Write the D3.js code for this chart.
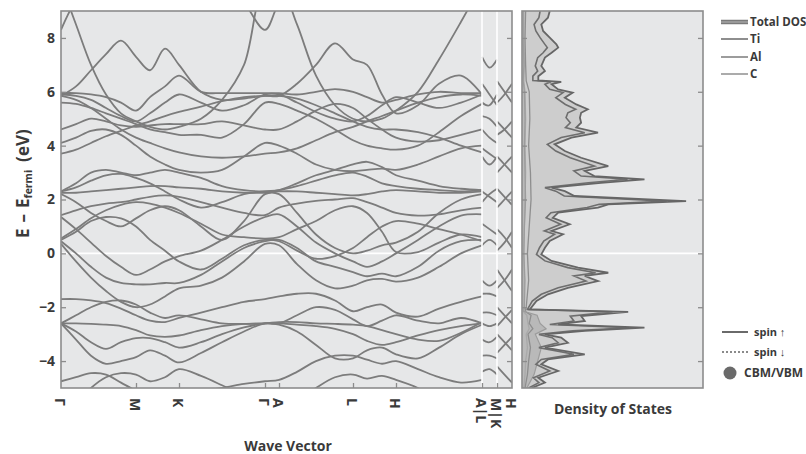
<!DOCTYPE html>
<html><head><meta charset="utf-8">
<script src="https://cdn.jsdelivr.net/npm/d3@7"></script>
<style>body{margin:0;background:#fff;} svg{display:block;font-family:"Open Sans",sans-serif;}</style>
</head><body><svg id="c" width="806" height="454"></svg>
<script>
// ---------- DATA ----------
const yTicks = [-4,-2,0,2,4,6,8];
const kTicks = [0,75,118,204,218,292,335,421,436,451];
const kLabels = ["Γ","M","K","Γ","A","L","H","A|L","M|K","H"];
// k sample positions along the main path Γ-M-K-Γ-A-L-H-A
const kGrid = [0,15,30,45,60,75,89,104,118,140,161,183,204,218,236,255,274,292,306,321,335,357,378,400,421];
const bands = [
 [-4.75,-4.6,-4.45,-4.5,-4.8,-5.1,-5.3,-5.3,-5.2,-5.1,-5.0,-4.85,-4.75,-4.7,-4.4,-4.0,-3.8,-3.8,-3.95,-4.1,-4.0,-4.3,-4.6,-4.8,-4.7],
 [-6,-5.6,-5.0,-4.6,-4.45,-4.5,-4.75,-4.6,-4.3,-4.55,-4.9,-5.3,-6,-6,-5.5,-5.0,-4.6,-4.5,-4.65,-4.55,-4.7,-5.0,-5.4,-6,-6],
 [-2.6,-3.2,-3.8,-4.1,-4.0,-3.85,-3.6,-3.8,-4.05,-3.7,-3.3,-2.9,-2.6,-2.65,-2.9,-3.4,-3.9,-3.9,-3.6,-3.5,-3.75,-3.9,-3.5,-3.0,-2.65],
 [-2.6,-2.9,-3.3,-3.55,-3.3,-3.15,-3.15,-3.3,-3.5,-3.3,-3.0,-2.75,-2.6,-2.6,-2.65,-2.7,-2.8,-3.0,-3.25,-3.4,-3.3,-3.05,-2.85,-2.7,-2.6],
 [-2.6,-2.6,-2.62,-2.65,-2.7,-2.85,-3.05,-3.1,-3.05,-2.85,-2.7,-2.62,-2.6,-2.55,-2.55,-2.6,-2.62,-2.65,-2.7,-2.85,-3.0,-3.2,-3.25,-2.95,-2.55],
 [-1.7,-1.7,-1.75,-1.85,-2.05,-2.3,-2.5,-2.55,-2.4,-2.2,-2.0,-1.8,-1.7,-1.6,-1.5,-1.5,-1.75,-2.15,-2.0,-1.9,-2.2,-2.35,-2.05,-1.8,-1.6],
 [-2.6,-2.3,-2.0,-1.8,-1.75,-1.9,-2.2,-2.4,-2.3,-2.45,-2.6,-2.62,-2.6,-2.6,-2.3,-2.0,-2.1,-2.45,-2.7,-2.5,-2.3,-2.5,-2.6,-2.4,-2.6],
 [0.35,-0.3,-0.9,-1.4,-1.8,-2.0,-1.9,-1.6,-1.3,-1.2,-0.9,-0.3,0.35,0.3,-0.4,-1.0,-1.3,-1.2,-1.0,-0.95,-1.05,-0.9,-0.5,0.0,0.3],
 [0.45,0.0,-0.5,-0.9,-1.1,-1.15,-1.15,-1.1,-1.1,-0.8,-0.3,0.2,0.45,0.5,0.2,-0.3,-0.5,-0.7,-0.85,-0.75,-0.85,-0.5,0.1,0.45,0.5],
 [0.55,0.9,1.3,1.6,1.8,1.9,1.85,1.7,1.5,1.1,0.7,0.6,0.55,0.6,0.9,1.2,1.6,1.75,1.5,0.8,0.05,0.05,0.4,0.7,0.6],
 [1.35,0.9,0.4,-0.1,-0.5,-0.8,-0.6,-0.3,-0.1,0.1,0.5,1.0,1.35,1.45,1.0,0.4,0.0,-0.3,-0.5,-0.3,0.0,0.5,1.0,1.4,1.45],
 [1.42,1.6,1.75,1.85,1.9,2.0,2.1,2.15,2.1,1.9,1.7,1.5,1.42,1.7,1.85,1.95,2.0,2.05,1.9,1.7,1.5,1.4,1.45,1.6,1.7],
 [0.5,0.8,1.2,1.35,1.3,1.0,0.5,0.1,-0.3,-0.6,-0.2,0.3,0.5,0.45,0.1,-0.2,-0.1,0.2,0.6,1.0,1.2,1.1,0.9,0.7,0.45],
 [2.25,2.25,2.3,2.35,2.4,2.45,2.5,2.5,2.45,2.4,2.3,2.25,2.25,2.3,2.3,2.25,2.2,2.15,2.2,2.3,2.35,2.3,2.25,2.25,2.3],
 [2.3,2.45,2.7,2.9,2.95,2.8,2.6,2.3,2.0,1.7,1.9,2.2,2.3,2.35,2.5,2.7,2.9,3.0,2.85,2.6,2.5,2.4,2.35,2.3,2.35],
 [2.2,1.9,1.5,1.2,1.0,1.3,1.6,1.75,1.6,1.0,0.5,1.2,2.2,2.2,1.5,0.7,0.2,0.0,0.1,0.3,0.4,0.8,1.5,2.0,2.2],
 [2.3,2.6,3.0,3.1,3.0,2.9,3.0,3.1,3.0,2.8,2.5,2.35,2.3,2.35,2.6,2.9,3.1,3.3,3.4,3.2,2.9,2.7,2.5,2.4,2.35],
 [3.7,3.85,4.1,4.35,4.55,4.75,4.9,5.1,5.25,5.45,5.65,5.8,5.85,5.85,5.75,5.5,5.2,4.9,4.7,4.6,4.6,4.5,4.3,4.0,3.75],
 [5.85,5.7,5.4,5.0,4.6,4.3,4.1,3.9,3.75,3.6,3.55,3.6,3.7,3.75,3.9,4.2,4.5,4.7,4.9,5.1,5.3,5.6,5.8,5.9,5.85],
 [4.1,4.3,4.55,4.6,4.4,4.0,3.6,3.3,3.1,3.0,3.1,3.6,4.1,4.0,3.7,3.3,3.1,3.05,3.1,3.15,3.1,3.3,3.6,3.9,4.0],
 [4.6,4.8,5.0,4.9,4.75,4.7,4.75,4.8,4.8,4.8,4.9,4.75,4.6,4.6,4.9,5.3,5.55,5.4,5.0,4.6,4.3,4.15,4.2,4.4,4.6],
 [5.6,5.55,5.4,5.2,5.0,4.8,4.6,4.5,4.4,4.4,4.3,4.8,5.6,5.55,5.3,5.0,4.6,4.2,4.0,3.9,3.85,4.0,4.5,5.1,5.55],
 [5.9,5.85,5.7,5.4,5.1,4.9,5.2,5.6,5.9,5.6,5.3,5.5,5.9,5.9,5.6,5.25,5.0,4.9,5.1,5.5,5.8,5.6,5.4,5.6,5.9],
 [5.95,5.95,5.9,5.8,5.6,5.3,5.8,6.2,6.6,6.0,5.95,5.95,5.95,5.95,5.9,6.0,6.1,6.0,5.8,5.6,5.7,5.9,6.0,5.95,5.95],
 [5.85,6.2,6.8,7.4,7.9,7.3,6.8,7.6,7.0,6.0,5.7,5.75,5.85,5.85,6.3,7.0,7.8,7.2,7.0,5.9,5.2,5.5,6.3,6.6,5.9],
 [8.3,9.4,10,10,10,10,10,10,10,10,10,9.3,8.3,9.3,10,10,10,10,10,10,10,10,10,10,10],
 [10,8.5,7.0,5.9,5.2,4.9,4.7,4.6,4.7,5.0,5.7,7.0,10,10,8.5,6.6,5.5,5.0,4.9,5.0,5.3,6.0,7.2,8.6,10]
];
// short segments L-M and K-H
const kSegLM = [421,428.5,436];
const bandsLM = [
 [7.3,6.9,7.2],[6.3,5.9,5.5],[5.6,5.5,5.9],[5.1,5.0,4.7],[4.6,4.3,4.1],[3.9,3.7,3.5],[3.6,3.3,3.6],
 [2.3,2.1,1.9],[1.9,2.2,2.4],[1.1,0.9,0.7],[0.3,0.5,0.3],[-1.0,-1.2,-1.0],[-1.5,-1.5,-1.6],
 [-2.2,-2.2,-2.3],[-2.6,-2.7,-2.6],[-3.2,-3.3,-3.1],[-3.8,-3.8,-3.9],[-4.4,-4.3,-4.5]
];
const kSegKH = [436,443.5,451];
const bandsKH = [
 [6.4,6.0,5.6],[5.6,5.9,6.3],[4.9,4.6,4.3],[4.4,4.6,4.9],[3.6,3.3,3.0],[3.0,3.3,3.6],[2.4,2.1,1.8],
 [1.7,2.0,2.3],[0.9,0.6,0.2],[0.1,0.4,0.8],[-0.6,-1.0,-1.4],[-1.3,-1.0,-0.6],[-2.0,-2.3,-2.6],
 [-2.7,-2.4,-2.1],[-3.0,-3.3,-3.6],[-3.7,-3.4,-3.1],[-4.2,-4.5,-4.8]
];
// density of states
const dosE = [9.0,8.75,8.5,8.26,8.01,7.76,7.64,7.45,7.27,6.96,6.77,6.58,6.42,6.37,6.28,6.09,5.97,5.78,5.53,5.35,5.22,5.04,4.85,4.67,4.48,4.30,4.05,3.80,3.55,3.24,3.06,2.87,2.75,2.62,2.44,2.31,2.13,1.94,1.82,1.70,1.51,1.32,1.08,0.83,0.71,0.46,0.21,-0.04,-0.28,-0.53,-0.72,-0.84,-1.03,-1.28,-1.52,-1.77,-2.08,-2.17,-2.33,-2.51,-2.64,-2.76,-2.88,-3.01,-3.13,-3.32,-3.50,-3.75,-3.94,-4.12,-4.37,-4.62,-4.80,-5.0];
const dosTotalUp = [4.6,4.3,3.2,3.5,4.6,5.7,6.0,4.9,3.8,3.2,3.8,2.7,2.7,6.5,4.9,6.0,8.4,7.1,9.0,10.9,9.8,9.6,9.8,9.0,12.6,8.2,5.4,7.1,9.8,14.3,10.4,12.0,20.3,13.1,4.9,7.1,8.7,27.2,14.3,12.6,6.0,5.1,7.9,4.9,6.8,4.6,3.8,3.2,4.9,9.3,14.3,10.4,12.6,7.6,4.3,2.4,1.3,17.6,9.8,10.4,6.0,20.3,10.4,3.8,6.5,7.6,3.8,10.4,4.3,3.2,6.0,2.7,3.8,1.6];
const dosTotalDown = [3.0,2.8,2.0,2.3,3.0,3.8,4.2,3.5,2.6,2.2,2.6,1.8,1.8,4.8,3.8,4.6,6.8,5.6,7.2,8.9,7.6,7.3,8.0,7.2,10.4,6.5,4.2,5.6,8.0,12.0,8.6,9.8,17.5,11.0,3.8,5.6,7.0,24.0,12.8,10.8,4.8,4.0,6.4,3.7,5.4,3.6,2.9,2.4,3.8,7.6,12.2,8.6,10.6,6.0,3.2,1.7,0.9,15.0,8.0,8.6,4.6,17.8,8.4,2.8,5.0,6.0,2.8,8.6,3.2,2.3,4.6,1.9,2.8,1.1];
const pdosE = [9,8,7,6.4,6,5,4,3,2,1,0,-1,-2,-2.15,-2.3,-2.6,-2.8,-3,-3.5,-4,-4.5,-5];
const dosTi = [0.6,0.5,0.6,0.7,1.2,1.3,1.1,1.4,1.5,1.2,0.9,1.1,0.7,0.5,1.5,1.2,1.8,1.0,1.4,1.1,0.9,0.5];
const dosAl = [0.3,0.3,0.4,0.3,0.5,0.6,0.5,0.6,0.5,0.4,0.3,0.4,0.3,0.2,0.8,1.0,1.2,0.7,0.9,0.6,0.5,0.3];
const dosC  = [0.2,0.2,0.3,0.2,0.4,0.5,0.4,0.5,0.6,0.4,0.3,0.5,0.4,0.3,2.5,3.0,4.0,2.2,3.2,2.6,2.0,0.8];
const legendDOS = ["Total DOS","Ti","Al","C"];
const legendSpin = ["spin \u2191","spin \u2193","CBM/VBM"];

// ---------- DRAW ----------
const svg = d3.select('#c');
const P = {l:61, r:512, t:11, b:388};
const D = {l:522, r:703};
const y = d3.scaleLinear().domain([-5,9]).range([P.b,P.t]);
const xk = d3.scaleLinear().domain([0,451]).range([P.l,P.r]);
const xd = d3.scaleLinear().domain([0,30]).range([D.l,D.r]);
const bg = '#e6e7e8', frame = '#8c8c8c', bandCol = '#7c7c7c', txt = '#3a3a3a';

const defs = svg.append('defs');
defs.append('clipPath').attr('id','cb').append('rect').attr('x',P.l).attr('y',P.t).attr('width',P.r-P.l).attr('height',P.b-P.t);
defs.append('clipPath').attr('id','cd').append('rect').attr('x',D.l).attr('y',P.t).attr('width',D.r-D.l).attr('height',P.b-P.t);

svg.append('rect').attr('x',P.l).attr('y',P.t).attr('width',P.r-P.l).attr('height',P.b-P.t).attr('fill',bg);
svg.append('rect').attr('x',D.l).attr('y',P.t).attr('width',D.r-D.l).attr('height',P.b-P.t).attr('fill',bg);

// Fermi level lines
svg.append('line').attr('x1',P.l).attr('x2',P.r).attr('y1',y(0)).attr('y2',y(0)).attr('stroke','#fff').attr('stroke-width',1.6);
svg.append('line').attr('x1',D.l).attr('x2',D.r).attr('y1',y(0)).attr('y2',y(0)).attr('stroke','#fff').attr('stroke-width',1.6);

// bands
const gB = svg.append('g').attr('clip-path','url(#cb)');
const lineMain = d3.line().x((d,i)=>xk(kGrid[i])).y(d=>y(d)).curve(d3.curveCatmullRom.alpha(0.5));
gB.selectAll('path.bm').data(bands).join('path').attr('class','bm')
  .attr('d',lineMain).attr('fill','none').attr('stroke',bandCol).attr('stroke-width',1.8);
const lineLM = d3.line().x((d,i)=>xk(kSegLM[i])).y(d=>y(d)).curve(d3.curveNatural);
gB.selectAll('path.lm').data(bandsLM).join('path').attr('class','lm')
  .attr('d',lineLM).attr('fill','none').attr('stroke',bandCol).attr('stroke-width',1.8);
const lineKH = d3.line().x((d,i)=>xk(kSegKH[i])).y(d=>y(d)).curve(d3.curveNatural);
gB.selectAll('path.kh').data(bandsKH).join('path').attr('class','kh')
  .attr('d',lineKH).attr('fill','none').attr('stroke',bandCol).attr('stroke-width',1.8);
[421,436].forEach(k=>{
  svg.append('line').attr('x1',xk(k)).attr('x2',xk(k)).attr('y1',P.t).attr('y2',P.b).attr('stroke','#fff').attr('stroke-width',1.6);
});

// DOS
const gD = svg.append('g').attr('clip-path','url(#cd)');
const area = d3.area().y((d,i)=>y(dosE[i])).x0(xd(0)).x1(d=>xd(d));
gD.append('path').datum(dosTotalUp).attr('d',area).attr('fill','#cdcdcd');
const dl = (E)=>d3.line().y((d,i)=>y(E[i])).x(d=>xd(d));
gD.append('path').datum(dosC).attr('d',d3.area().y((d,i)=>y(pdosE[i])).x0(xd(0)).x1(d=>xd(d))).attr('fill','#b9b9b9');
gD.append('path').datum(dosAl).attr('d',dl(pdosE)).attr('fill','none').attr('stroke','#a9a9a9').attr('stroke-width',1.3);
gD.append('path').datum(dosTi).attr('d',dl(pdosE)).attr('fill','none').attr('stroke','#8e8e8e').attr('stroke-width',1.3);
gD.append('path').datum(dosC).attr('d',dl(pdosE)).attr('fill','none').attr('stroke','#9c9c9c').attr('stroke-width',1.2);
gD.append('path').datum(dosTotalDown).attr('d',dl(dosE)).attr('fill','none').attr('stroke','#6e6e6e').attr('stroke-width',1.6);
gD.append('path').datum(dosTotalUp).attr('d',dl(dosE)).attr('fill','none').attr('stroke','#666').attr('stroke-width',1.8);

// frames
svg.append('rect').attr('x',P.l).attr('y',P.t).attr('width',P.r-P.l).attr('height',P.b-P.t).attr('fill','none').attr('stroke',frame).attr('stroke-width',1.6);
svg.append('rect').attr('x',D.l).attr('y',P.t).attr('width',D.r-D.l).attr('height',P.b-P.t).attr('fill','none').attr('stroke',frame).attr('stroke-width',1.6);

function styleAxis(g){ g.select('.domain').remove(); g.selectAll('line').attr('stroke',frame).attr('stroke-width',1.3); }
const ax = svg.append('g').attr('transform',`translate(${P.l},0)`)
  .call(d3.axisLeft(y).tickValues(yTicks).tickSizeInner(-5).tickSizeOuter(0).tickPadding(6).tickFormat(d3.format('d')));
styleAxis(ax);
ax.selectAll('text').attr('font-size',14).attr('font-weight','bold').attr('fill',txt).attr('font-family','"Open Sans",sans-serif');
[[P.r, d3.axisRight(y).tickSizeInner(-5)],[D.l, d3.axisRight(y).tickSizeInner(5)],[D.r, d3.axisLeft(y).tickSizeInner(5)]].forEach(([xx,a])=>{
  const g = svg.append('g').attr('transform',`translate(${xx},0)`).call(a.tickValues(yTicks).tickSizeOuter(0).tickFormat(''));
  styleAxis(g);
});
const bx = svg.append('g').attr('transform',`translate(0,${P.b})`)
  .call(d3.axisBottom(xk).tickValues(kTicks).tickSizeInner(-5).tickSizeOuter(0).tickFormat((d,i)=>kLabels[i]));
styleAxis(bx);
bx.selectAll('.tick').filter((d,i)=>i===0||i===kTicks.length-1).select('line').remove();
bx.selectAll('text').attr('transform','rotate(90)').attr('x',10).attr('y',0).attr('dy','0.5em')
  .style('text-anchor','start').attr('font-size',14).attr('font-weight','bold').attr('fill',txt).attr('font-family','"Open Sans",sans-serif');

// axis titles
svg.append('text').attr('x',288).attr('y',451).attr('text-anchor','middle').attr('font-size',14).attr('font-weight','bold').attr('fill',txt).text('Wave Vector');
svg.append('text').attr('x',613).attr('y',414).attr('text-anchor','middle').attr('font-size',14).attr('font-weight','bold').attr('fill',txt).text('Density of States');
const yl = svg.append('text').attr('transform','translate(29,238) rotate(-90)').attr('font-size',17).attr('font-weight','bold').attr('fill',txt);
yl.append('tspan').text('E');
yl.append('tspan').attr('dx',6).text('\u2013');
yl.append('tspan').attr('dx',6).text('E');
yl.append('tspan').attr('font-size',10.5).attr('dy',3).text('fermi');
yl.append('tspan').attr('dx',8).attr('dy',-3).text('(eV)');

// legend
const lg = svg.append('g').attr('font-size',11.5).attr('font-weight','bold').attr('fill',txt);
const lgY = [22,39,57,74];
legendDOS.forEach((t,i)=>{
  const yy = lgY[i];
  if(i===0){
    lg.append('line').attr('x1',721).attr('x2',748).attr('y1',yy).attr('y2',yy).attr('stroke','#7a7a7a').attr('stroke-width',4.5);
    lg.append('line').attr('x1',721).attr('x2',748).attr('y1',yy).attr('y2',yy).attr('stroke','#a5a5a5').attr('stroke-width',1.5);
  } else {
    lg.append('line').attr('x1',721).attr('x2',748).attr('y1',yy).attr('y2',yy).attr('stroke',['','#8e8e8e','#9c9c9c','#ababab'][i]).attr('stroke-width',2);
  }
  lg.append('text').attr('x',750).attr('y',yy).attr('dy','0.35em').text(t);
});
const spY = [332,352,373];
lg.append('line').attr('x1',722).attr('x2',748).attr('y1',spY[0]).attr('y2',spY[0]).attr('stroke','#6a6a6a').attr('stroke-width',2);
lg.append('line').attr('x1',722).attr('x2',748).attr('y1',spY[1]).attr('y2',spY[1]).attr('stroke','#8a8a8a').attr('stroke-width',2).attr('stroke-dasharray','2,2');
lg.append('circle').attr('cx',730).attr('cy',spY[2]).attr('r',6.5).attr('fill','#6a6a6a');
legendSpin.forEach((t,i)=>{
  lg.append('text').attr('x',i<2?754:744).attr('y',spY[i]).attr('dy','0.35em').attr('font-size',i<2?11:12).text(t);
});
</script></body></html>
